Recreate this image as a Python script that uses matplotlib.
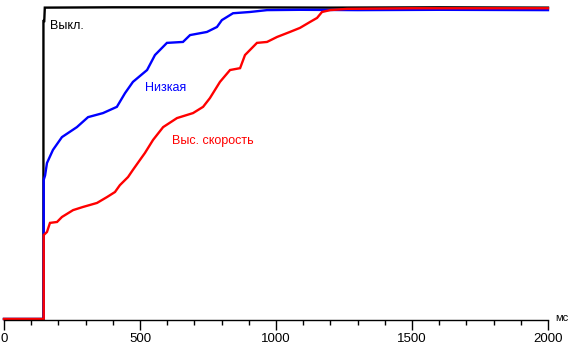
import matplotlib
matplotlib.use("Agg")
import matplotlib.pyplot as plt
from matplotlib.ticker import MultipleLocator

# time (ms) and brightness (% of max)
t_off = [0, 145, 145, 148, 150, 400, 800, 1200, 1600, 2000]
v_off = [0, 0, 95.5, 95.5, 99.8, 99.9, 99.9, 99.8, 99.9, 99.8]

t_low = [0, 146, 146, 151, 158, 180, 213, 268, 309, 364, 415, 445, 474, 526,
         555, 599, 658, 684, 746, 783, 801, 842, 904, 967, 1088, 1300, 1600, 2000]
v_low = [0, 0, 44.6, 46, 50, 54.2, 58.3, 61.5, 64.7, 66, 68, 72.4, 76, 79.8,
         84.6, 88.5, 88.8, 91, 92, 93.6, 95.8, 98, 98.4, 99.0, 99.1, 99.0, 99.1, 99.0]

t_high = [0, 146, 146, 158, 169, 195, 213, 254, 290, 342, 379, 408, 426, 456,
          474, 500, 518, 548, 585, 636, 695, 732, 757, 794, 831, 868, 886, 930,
          967, 1004, 1051, 1088, 1125, 1151, 1169, 1199, 1261, 1500, 2000]
v_high = [0, 0, 26.9, 27.9, 30.8, 31.1, 32.7, 34.9, 35.9, 37.2, 39.1, 40.7, 42.9, 45.5,
          47.8, 51, 53.2, 57.4, 61.5, 64.4, 66, 68, 70.8, 76, 79.8, 80.4, 84.6, 88.5,
          88.8, 90.4, 92, 93.3, 95.2, 96.5, 98.4, 99, 99.4, 99.6, 99.6]

labels = ["Выкл.", "Низкая", "Выс. скорость"]
label_pos = [(169, 93.9), (518, 74), (618, 57)]
colors = ["#000000", "#0000ff", "#ff0000"]

x_ticks = [0, 500, 1000, 1500, 2000]
x_unit = "мс"

plt.rcParams['font.family'] = ['Liberation Sans', 'DejaVu Sans']

W, H = 569, 347
fig = plt.figure(figsize=(W / 100, H / 100), dpi=100)
ax = fig.add_axes([4 / W, 27 / H, 544 / W, 313 / H])
ax.set_xlim(0, 2000)
ax.set_ylim(-0.32, 100)

for t, v, c in zip([t_off, t_low, t_high], [v_off, v_low, v_high], colors):
    ax.plot(t, v, color=c, lw=1.7, solid_joinstyle='miter', clip_on=False)

for lab, (x, y), c in zip(labels, label_pos, colors):
    ax.text(x, y, lab, color=c, fontsize=9, ha='left', va='center')

for s in ['top', 'left', 'right']:
    ax.spines[s].set_visible(False)
ax.spines['bottom'].set_linewidth(1.0)
ax.set_yticks([])
ax.set_xticks(x_ticks)
ax.set_xticklabels([str(x) for x in x_ticks])
ax.xaxis.set_minor_locator(MultipleLocator(100))
ax.tick_params(axis='x', which='major', length=7, width=1, direction='out',
               labelsize=9.5, pad=2)
ax.tick_params(axis='x', which='minor', length=3.5, width=1, direction='out')
ax.text(1.013, 0.005, x_unit, transform=ax.transAxes, fontsize=8, ha='left', va='center')

fig.savefig("out.png", dpi=100, facecolor='white')
